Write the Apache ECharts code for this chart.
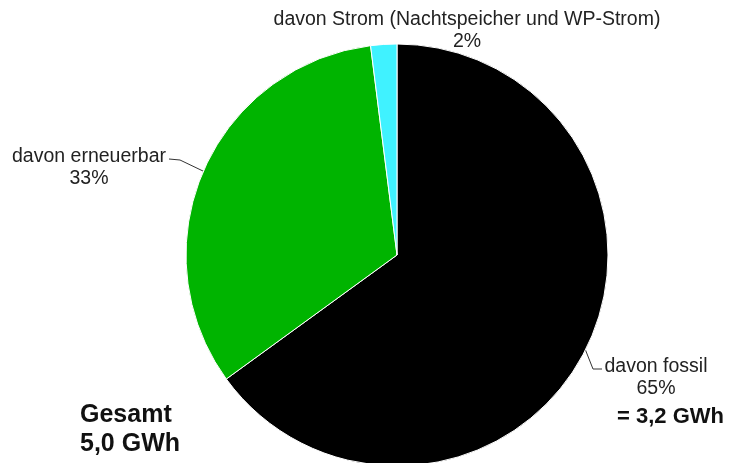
<!DOCTYPE html>
<html>
<head>
<meta charset="utf-8">
<script src="https://cdn.jsdelivr.net/npm/echarts@6/dist/echarts.min.js"></script>
<style>html,body{margin:0;padding:0;background:#fff;}#c{width:731px;height:463px;}</style>
</head>
<body>
<div id="c"></div>
<script>
var categories = ['davon fossil', 'davon erneuerbar', 'davon Strom (Nachtspeicher und WP-Strom)'];
var shares = [65, 33, 2];
var colors = ['#000000', '#00b400', '#40f2ff'];
var totalText = 'Gesamt\n5,0 GWh';
var fossilText = '= 3,2 GWh';

var labelPos = [
  {x: 656, y: 378},
  {x: 89, y: 168},
  {x: 467, y: 31}
];

var chart = echarts.init(document.getElementById('c'), null, {renderer: 'canvas'});
chart.setOption({
  animation: false,
  backgroundColor: '#ffffff',
  series: [{
    type: 'pie',
    center: [397, 255],
    radius: 211,
    startAngle: 90,
    clockwise: true,
    data: categories.map(function (n, i) {
      return {
        name: n, value: shares[i],
        itemStyle: {color: colors[i]},
        labelLine: {show: i !== 2}
      };
    }),
    itemStyle: {borderColor: '#ffffff', borderWidth: 1},
    label: {
      show: true,
      formatter: '{b}\n{d}%',
      fontFamily: 'Liberation Sans, Arial, sans-serif',
      fontSize: 19.5,
      lineHeight: 22,
      color: '#222222',
      align: 'center',
      overflow: 'none'
    },
    labelLine: {
      show: true,
      lineStyle: {color: '#333333', width: 1}
    },
    labelLayout: function (p) {
      var pos = labelPos[p.dataIndex];
      var out = {x: pos.x, y: pos.y, align: 'center', verticalAlign: 'middle'};
      var pts = p.labelLinePoints;
      if (pts && pts.length) {
        var e = pts[0];
        if (p.dataIndex === 1) {
          out.labelLinePoints = [[e[0], e[1]], [180, 160], [169, 159]];
        } else if (p.dataIndex === 0) {
          out.labelLinePoints = [[e[0], e[1] - 2], [593, 369], [602, 369]];
        }
      }
      return out;
    }
  }],
  graphic: [
    {type: 'text', left: 80, top: 401, style: {text: totalText, font: 'bold 25px "Liberation Sans", Arial, sans-serif', fill: '#111', lineHeight: 29}},
    {type: 'text', left: 617, top: 406, style: {text: fossilText, font: 'bold 22px "Liberation Sans", Arial, sans-serif', fill: '#111'}}
  ]
});
</script>
</body>
</html>
